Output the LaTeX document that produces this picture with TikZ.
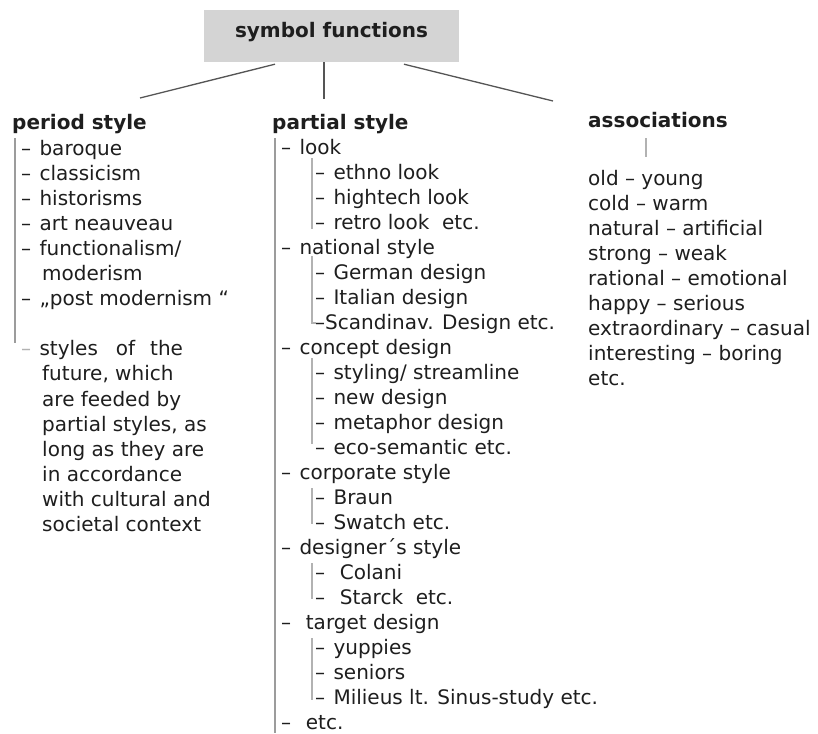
\documentclass[tikz,border=0pt]{standalone}
\usepackage{fontspec}
\setmainfont{DejaVu Sans}
\usetikzlibrary{calc}
\definecolor{txt}{HTML}{1E1E1E}
\definecolor{boxfill}{HTML}{D4D4D4}
\definecolor{connc}{HTML}{555555}
\definecolor{barc}{HTML}{9C9C9C}
\definecolor{subc}{HTML}{B2B2B2}
\newcommand{\dsh}{–\hspace{2pt}\ }
\begin{document}
\begin{tikzpicture}[x=1pt,y=-1pt,
  item/.style={anchor=base west, inner sep=0pt, text=txt, font=\fontsize{20}{24}\selectfont},
  head/.style={anchor=base west, inner sep=0pt, text=txt, font=\fontsize{20}{24}\selectfont\bfseries},
  rootbox/.style={fill=boxfill, inner sep=0pt, minimum width=255pt, minimum height=52pt, text height=15pt, text depth=12pt, text=txt, font=\fontsize{20}{24}\selectfont\bfseries},
  conn/.style={draw=connc, line width=1.3pt},
  mainbar/.style={draw=barc, line width=2pt},
  subbar/.style={draw=subc, line width=1.5pt}]
\useasboundingbox (0,0) rectangle (818,733);
\fill[white] (0,0) rectangle (818,733);

% root
\node[rootbox] (root) at (331.5,36) {symbol functions};

% headings
\node[head] (period) at (12,129) {period style};
\node[head] (partial) at (272,129) {partial style};
\node[head] (assoc) at (588,128) {associations};

% connectors
\coordinate (cl) at (140,98);
\coordinate (cm) at (324,99);
\coordinate (cr) at (553,101);
\draw[conn] ($(root.south)+(-56.5,2)$) -- (cl);
\draw[conn] ($(root.south)+(-7.5,0)$) -- (cm);
\draw[conn] ($(root.south)+(72.5,2)$) -- (cr);

% period style
\draw[mainbar] (15,138) -- (15,343);
\node[item] (pe1) at (21,155+25.1*0) {\dsh baroque};
\node[item] (pe2) at (21,155+25.1*1) {\dsh classicism};
\node[item] (pe3) at (21,155+25.1*2) {\dsh historisms};
\node[item] (pe4) at (21,155+25.1*3) {\dsh art neauveau};
\node[item] (pe5) at (21,155+25.1*4) {\dsh functionalism/};
\node[item] (pe6) at (42,155+25.1*5) {moderism};
\node[item] (pe7) at (21,155+25.1*6) {\dsh „post modernism “};
\node[item] (pe8) at (21,155+25.1*8) {{\color{subc}–}\hspace{2pt}\ styles\hspace{18pt}of\hspace{15pt}the};
\node[item] (pe9) at (42,155+25.1*9) {future, which};
\node[item] (pe10) at (42,155+25.1*10) {are feeded by};
\node[item] (pe11) at (42,155+25.1*11) {partial styles, as};
\node[item] (pe12) at (42,155+25.1*12) {long as they are};
\node[item] (pe13) at (42,155+25.1*13) {in accordance};
\node[item] (pe14) at (42,155+25.1*14) {with cultural and};
\node[item] (pe15) at (42,155+25.1*15) {societal context};

% partial style
\draw[mainbar] (275,138) -- (275,733);
\draw[subbar] (312,158) -- (312,229);
\draw[subbar] (312,256) -- (312,323) -- (316,323);
\draw[subbar] (312,358) -- (312,444);
\draw[subbar] (312,488) -- (312,524);
\draw[subbar] (312,563) -- (312,599);
\draw[subbar] (312,638) -- (312,700);
\node[item] (pa0) at (281,154+25*0) {\dsh look};
\node[item] (pa1) at (315,154+25*1) {\dsh ethno look};
\node[item] (pa2) at (315,154+25*2) {\dsh hightech look};
\node[item] (pa3) at (315,154+25*3) {\dsh retro look\ \ etc.};
\node[item] (pa4) at (281,154+25*4) {\dsh national style};
\node[item] (pa5) at (315,154+25*5) {\dsh German design};
\node[item] (pa6) at (315,154+25*6) {\dsh Italian design};
\node[item] (pa7) at (315,154+25*7) {–Scandinav. Design etc.};
\node[item] (pa8) at (281,154+25*8) {\dsh concept design};
\node[item] (pa9) at (315,154+25*9) {\dsh styling/ streamline};
\node[item] (pa10) at (315,154+25*10) {\dsh new design};
\node[item] (pa11) at (315,154+25*11) {\dsh metaphor design};
\node[item] (pa12) at (315,154+25*12) {\dsh eco-semantic etc.};
\node[item] (pa13) at (281,154+25*13) {\dsh corporate style};
\node[item] (pa14) at (315,154+25*14) {\dsh Braun};
\node[item] (pa15) at (315,154+25*15) {\dsh Swatch etc.};
\node[item] (pa16) at (281,154+25*16) {\dsh designer´s style};
\node[item] (pa17) at (315,154+25*17) {\dsh\ Colani};
\node[item] (pa18) at (315,154+25*18) {\dsh\ Starck\ \ etc.};
\node[item] (pa19) at (281,154+25*19) {\dsh\ target design};
\node[item] (pa20) at (315,154+25*20) {\dsh yuppies};
\node[item] (pa21) at (315,154+25*21) {\dsh seniors};
\node[item] (pa22) at (315,154+25*22) {\dsh Milieus lt. Sinus-study etc.};
\node[item] (pa23) at (281,154+25*23) {\dsh\ etc.};

% associations
\draw[subbar] (646,138) -- (646,157);
\node[item] (as0) at (588,185+25.1*0) {old – young};
\node[item] (as1) at (588,185+25.1*1) {cold – warm};
\node[item] (as2) at (588,185+25.1*2) {natural – artificial};
\node[item] (as3) at (588,185+25.1*3) {strong – weak};
\node[item] (as4) at (588,185+25.1*4) {rational – emotional};
\node[item] (as5) at (588,185+25.1*5) {happy – serious};
\node[item] (as6) at (588,185+25.1*6) {extraordinary – casual};
\node[item] (as7) at (588,185+25.1*7) {interesting – boring};
\node[item] (as8) at (588,185+25.1*8) {etc.};
\end{tikzpicture}
\end{document}
